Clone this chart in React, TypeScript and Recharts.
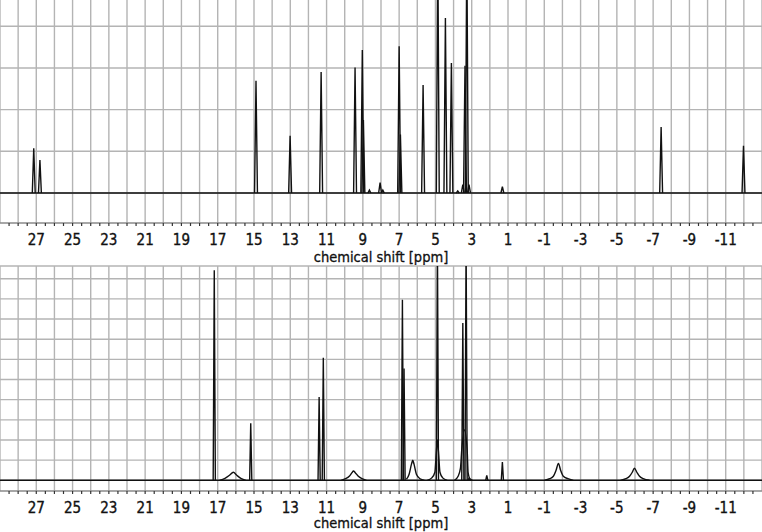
import React from 'react';
import { LineChart, Line, XAxis, YAxis, ReferenceLine } from 'recharts';

// peaks: [ppm, height in grid units]
const topPeaks: [number, number][] = [
  [27.14, 1.07], [26.8, 0.79], [14.89, 2.69], [13.01, 1.37], [11.3, 2.9],
  [9.43, 3.01], [9.03, 3.43], [8.97, 1.75], [8.64, 0.07], [8.05, 0.25], [7.9, 0.07],
  [7.0, 3.52], [6.93, 1.4], [5.68, 2.59], [4.87, 6], [4.45, 4.2], [4.12, 3.12],
  [3.77, 0.05], [3.49, 0.2], [3.37, 3.05], [3.27, 6], [3.15, 0.2], [1.31, 0.15],
  [-7.44, 1.58], [-11.98, 1.13],
];

const bottomPeaks: [number, number][] = [
  [17.19, 10.42], [15.18, 2.83], [11.41, 4.13], [11.18, 6.08], [6.82, 8.96], [6.73, 5.54],
  [4.89, 12], [3.49, 7.8], [3.31, 12], [3.15, 0.1], [2.17, 0.25], [1.31, 0.91],
];

// broad signals and wings in the lower spectrum, traced point by point
const bottomBroad: [number, number][][] = [
  [[16.9, 0], [16.6, 0.1], [16.35, 0.25], [16.14, 0.4], [15.95, 0.25], [15.7, 0.08], [15.45, 0]],
  [[10.2, 0], [9.95, 0.08], [9.75, 0.2], [9.6, 0.38], [9.52, 0.46], [9.42, 0.38], [9.25, 0.2], [9.05, 0.08], [8.8, 0]],
  [[6.6, 0.05], [6.45, 0.3], [6.32, 0.8], [6.25, 1.0], [6.18, 0.8], [6.05, 0.3], [5.85, 0.08], [5.6, 0]],
  [[5.45, 0], [5.2, 0.12], [5.03, 0.4], [4.95, 1.4], [4.89, 2], [4.83, 1.4], [4.75, 0.4], [4.6, 0.12], [4.35, 0]],
  [[3.95, 0], [3.75, 0.2], [3.62, 0.6], [3.55, 1.5], [3.4, 2.5], [3.25, 1.5], [3.2, 0.4], [3.1, 0.08], [2.95, 0]],
  [[-1.0, 0], [-1.3, 0.08], [-1.5, 0.2], [-1.65, 0.5], [-1.78, 0.84], [-1.9, 0.5], [-2.05, 0.2], [-2.3, 0.08], [-2.6, 0]],
  [[-5.2, 0], [-5.5, 0.08], [-5.7, 0.2], [-5.85, 0.4], [-5.97, 0.6], [-6.1, 0.4], [-6.25, 0.2], [-6.45, 0.08], [-6.8, 0]],
];

const xLabels = [27, 25, 23, 21, 19, 17, 15, 13, 11, 9, 7, 5, 3, 1, -1, -3, -5, -7, -9, -11];
const xMin = -13;
const xMax = 29;
const gridX = Array.from({ length: xMax - xMin + 1 }, (_, i) => xMax - i);
const tickX = Array.from({ length: (xMax - xMin) * 2 - 1 }, (_, i) => xMax - 0.5 - i * 0.5);

const topGridY = [0, 1, 2, 3, 4];
const bottomGridY = [0, 1, 2, 3, 4, 5, 6, 7, 8, 9, 10, 10.63];

const FONT = '"DejaVu Sans Condensed", "DejaVu Sans", sans-serif';
const GRID = '#b4b4b4';

const spike = (c: number, h: number, w: number) => [
  { x: c + w, y: 0 },
  { x: c, y: h },
  { x: c - w, y: 0 },
];

function Panel({ name, height, top, plotH, yDomain, gridY, peaks, broad, w, titleOffset }: any) {
  const baseline = [{ x: xMax, y: 0 }, { x: xMin, y: 0 }];
  const lineProps = {
    dataKey: 'y',
    stroke: '#111',
    strokeWidth: 1.4,
    dot: false,
    activeDot: false,
    legendType: 'none' as const,
    isAnimationActive: false,
  };
  return (
    <LineChart width={762} height={height} margin={{ top, right: 0, left: 0, bottom: 0 }}>
      <XAxis
        type="number"
        dataKey="x"
        domain={[xMin, xMax]}
        reversed
        allowDataOverflow
        ticks={tickX}
        interval={0}
        tickSize={3}
        tickMargin={8}
        height={height - top - plotH}
        axisLine={{ stroke: '#8a8a8a', strokeWidth: 1.3 }}
        tickLine={{ stroke: '#333', strokeWidth: 1.2 }}
        tick={{ fontSize: 15, fill: '#111', stroke: '#111', strokeWidth: 0.35, fontFamily: FONT }}
        tickFormatter={(v: number) => (xLabels.includes(v) ? String(v) : '')}
        label={{ value: 'chemical shift [ppm]', position: 'insideBottom', offset: titleOffset, fontSize: 14.5, fill: '#111', stroke: '#111', strokeWidth: 0.3, fontFamily: FONT }}
      />
      <YAxis hide type="number" domain={yDomain} allowDataOverflow width={0} />
      {gridX.map(v => (
        <ReferenceLine key={'gx' + v} x={v} stroke={GRID} strokeWidth={1.4} ifOverflow="visible" />
      ))}
      {gridY.map((v: number) => (
        <ReferenceLine key={'gy' + v} y={v} stroke={GRID} strokeWidth={1.4} />
      ))}
      <Line {...lineProps} id={name + '-base'} name={name + '-base'} data={baseline} type="linear" />
      {(broad || []).map((pts: [number, number][], i: number) => (
        <Line
          {...lineProps}
          key={'b' + i}
          id={name + '-b' + i}
          name={name + '-b' + i}
          data={pts.map(([x, y]) => ({ x, y }))}
          type="monotoneX"
        />
      ))}
      {peaks.map(([c, h]: [number, number], i: number) => (
        <Line
          {...lineProps}
          key={'p' + i}
          id={name + '-p' + i}
          name={name + '-p' + i}
          data={spike(c, h, w)}
          type="linear"
        />
      ))}
    </LineChart>
  );
}

export default function App() {
  return (
    <div style={{ position: 'absolute', left: 0, top: 0, width: 762, height: 532, background: '#fff' }}>
      <Panel name="top" height={265} top={0} plotH={223} yDomain={[-0.72, 4.63]} gridY={topGridY} peaks={topPeaks} w={0.08} titleOffset={3} />
      <Panel name="bottom" height={267} top={1} plotH={225} yDomain={[-0.53, 10.63]} gridY={bottomGridY} peaks={bottomPeaks} broad={bottomBroad} w={0.06} titleOffset={4} />
    </div>
  );
}
